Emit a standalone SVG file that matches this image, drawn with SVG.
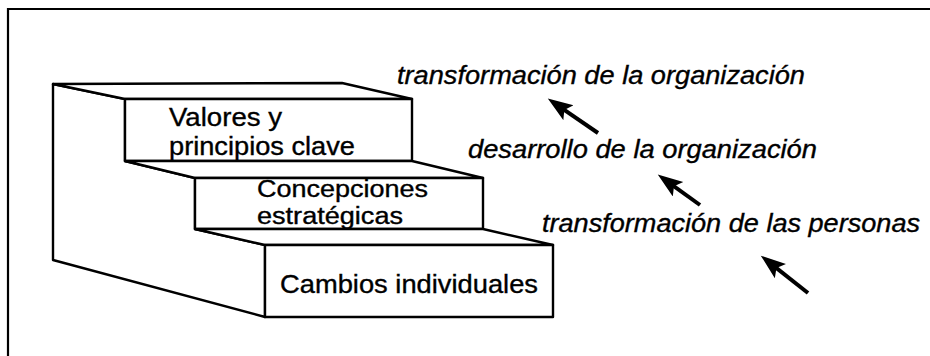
<svg xmlns="http://www.w3.org/2000/svg" width="930" height="356" viewBox="0 0 930 356">
<style>
.frame{stroke:#000;stroke-width:2.2;fill:none}
.face{fill:#fff;stroke:#000;stroke-width:2.4;stroke-linejoin:round}
.lbl{font-family:"Liberation Sans",Arial,sans-serif;font-size:25px;fill:#000;stroke:#000;stroke-width:0.35}
.sm{font-size:23px}
.it{font-family:"Liberation Sans",Arial,sans-serif;font-size:25px;font-style:italic;fill:#000;stroke:#000;stroke-width:0.35}
.arr{stroke:#000;stroke-width:4;fill:none;marker-end:url(#ah)}
</style>
<defs>
<marker id="ah" markerUnits="userSpaceOnUse" markerWidth="26" markerHeight="20" refX="13" refY="9" orient="auto">
<path d="M0,0 L25,9 L0,18 L5,9 Z" fill="#000"/>
</marker>
</defs>
<rect width="930" height="356" fill="#fff"/>
<path class="frame" d="M8,356 L8,9 L930,9"/>
<g id="stairs-side">
<polygon class="face" points="53,84 125,99 125,161 195,178 195,229 265,245 265,317 53,260"/>
</g>
<g id="step1">
<polygon class="face" points="53,84 342,83 412,99 125,99"/>
<rect class="face" x="125" y="99" width="287" height="62"/>
<text class="lbl" x="169" y="126" textLength="113" lengthAdjust="spacingAndGlyphs">Valores y</text>
<text class="lbl" x="169" y="155" textLength="186" lengthAdjust="spacingAndGlyphs">principios clave</text>
</g>
<g id="step2">
<polygon class="face" points="125,161 412,161 483,178 195,178"/>
<rect class="face" x="195" y="178" width="288" height="51"/>
<text class="lbl sm" x="257" y="197" textLength="171" lengthAdjust="spacingAndGlyphs">Concepciones</text>
<text class="lbl sm" x="257" y="224" textLength="146" lengthAdjust="spacingAndGlyphs">estratégicas</text>
</g>
<g id="step3">
<polygon class="face" points="195,229 483,229 553,245 265,245"/>
<rect class="face" x="265" y="245" width="288" height="72"/>
<text class="lbl" x="280" y="293" textLength="258" lengthAdjust="spacingAndGlyphs">Cambios individuales</text>
</g>
<g id="label-org-transform">
<text class="it" x="397" y="84" textLength="408" lengthAdjust="spacingAndGlyphs">transformación de la organización</text>
</g>
<g id="label-org-dev">
<text class="it" x="468" y="158" textLength="349" lengthAdjust="spacingAndGlyphs">desarrollo de la organización</text>
</g>
<g id="label-people">
<text class="it" x="542" y="232" textLength="378" lengthAdjust="spacingAndGlyphs">transformación de las personas</text>
</g>
<g id="connectors">
<line class="arr" x1="598" y1="133" x2="557.7" y2="105.4"/>
<line class="arr" x1="700" y1="205" x2="667.5" y2="181.6"/>
<line class="arr" x1="808" y1="293" x2="770.2" y2="263.1"/>
</g>
</svg>
